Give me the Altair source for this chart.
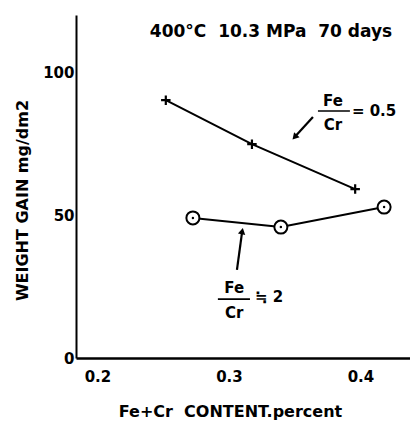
import altair as alt
import pandas as pd

# Series
x_cross = [0.252, 0.3175, 0.396]
y_cross = [90.2, 74.8, 59.1]
x_circ = [0.2726, 0.3395, 0.418]
y_circ = [49.0, 45.8, 52.8]

x_ticks = [0.2, 0.3, 0.4]
y_ticks = [0, 50, 100]

title_text = ["400°C\u00a0\u00a010.3 MPa\u00a0\u00a070 days"]
title_x = [0.332]
title_y = [114]

# Fraction annotations
frac_num = ["Fe", "Fe"]
frac_den = ["Cr", "Cr"]
frac_rhs = ["= 0.5", "≒ 2"]
frac_cx = [0.3791, 0.3040]
frac_num_y = [89.9, 24.5]
frac_den_y = [81.5, 15.7]
frac_bar_x1 = [0.3677, 0.2916]
frac_bar_x2 = [0.3920, 0.3160]
frac_bar_y = [86.4, 20.6]
frac_rhs_x = [0.3935, 0.3198]
frac_rhs_y = [86.4, 21.3]

# Arrows (tail -> head)
arr_x1 = [0.3639, 0.3061]
arr_y1 = [84.3, 30.8]
arr_x2 = [0.3500, 0.3101]
arr_y2 = [77.3, 44.4]
arr_angle = [222, 11]

FONT = "DejaVu Sans"

xs = alt.Scale(domain=[0.1837, 0.4377], nice=False, zero=False)
ys = alt.Scale(domain=[0, 120], nice=False)

df_cross = pd.DataFrame({"x": x_cross, "y": y_cross})
df_circ = pd.DataFrame({"x": x_circ, "y": y_circ})

X = alt.X("x:Q", scale=xs, title="Fe+Cr\u00a0\u00a0CONTENT.percent",
          axis=alt.Axis(values=x_ticks, format=".1f", grid=False, ticks=False,
                        domainColor="black", domainWidth=2.5, labelPadding=11,
                        labelFont=FONT, labelFontSize=15, labelFontWeight="bold",
                        labelColor="black",
                        titleFont=FONT, titleFontSize=16, titleFontWeight="bold",
                        titleColor="black", titleX=154, titleY=58,
                        titleAlign="center", titleBaseline="alphabetic"))
Y = alt.Y("y:Q", scale=ys, title="WEIGHT GAIN mg/dm2",
          axis=alt.Axis(values=y_ticks, grid=False, ticks=False,
                        domainColor="black", domainWidth=2, labelPadding=2,
                        labelFont=FONT, labelFontSize=15, labelFontWeight="bold",
                        labelColor="black",
                        titleFont=FONT, titleFontSize=16, titleFontWeight="bold",
                        titleColor="black", titleX=-54, titleY=185,
                        titleAlign="center", titleBaseline="middle", titleAngle=270))

line_cross = alt.Chart(df_cross).mark_line(color="black", strokeWidth=2).encode(x=X, y=Y)
line_circ = alt.Chart(df_circ).mark_line(color="black", strokeWidth=2).encode(x="x:Q", y="y:Q")

pts_cross = alt.Chart(df_cross).mark_point(
    shape="M-1,0L1,0M0,-1L0,1", filled=False, stroke="black", strokeWidth=2.2, size=90, opacity=1
).encode(x="x:Q", y="y:Q")
pts_circ = alt.Chart(df_circ).mark_point(
    shape="circle", filled=True, fill="white", stroke="black", strokeWidth=2, size=170, opacity=1
).encode(x="x:Q", y="y:Q")
dots_circ = alt.Chart(df_circ).mark_point(
    shape="circle", filled=True, color="black", size=6, opacity=1
).encode(x="x:Q", y="y:Q")

df_title = pd.DataFrame({"x": title_x, "y": title_y, "t": title_text})
title = alt.Chart(df_title).mark_text(
    font=FONT, fontSize=17, fontWeight="bold", color="black", align="center", baseline="middle"
).encode(x="x:Q", y="y:Q", text="t:N")

df_frac = pd.DataFrame({
    "cx": frac_cx, "ny": frac_num_y, "dy": frac_den_y, "num": frac_num, "den": frac_den,
    "bx1": frac_bar_x1, "bx2": frac_bar_x2, "by": frac_bar_y,
    "rx": frac_rhs_x, "ry": frac_rhs_y, "rhs": frac_rhs,
})
num = alt.Chart(df_frac).mark_text(
    font=FONT, fontSize=15, fontWeight="bold", color="black", align="center", baseline="middle"
).encode(x="cx:Q", y="ny:Q", text="num:N")
den = alt.Chart(df_frac).mark_text(
    font=FONT, fontSize=15, fontWeight="bold", color="black", align="center", baseline="middle"
).encode(x="cx:Q", y="dy:Q", text="den:N")
bar = alt.Chart(df_frac).mark_rule(color="black", strokeWidth=1.6).encode(
    x="bx1:Q", x2="bx2:Q", y="by:Q")
rhs = alt.Chart(df_frac).mark_text(
    font=FONT, fontSize=15, fontWeight="bold", color="black", align="left", baseline="middle"
).encode(x="rx:Q", y="ry:Q", text="rhs:N")

df_arr = pd.DataFrame({"x1": arr_x1, "y1": arr_y1, "x2": arr_x2, "y2": arr_y2, "a": arr_angle})
arr_line = alt.Chart(df_arr).mark_rule(color="black", strokeWidth=2.2).encode(
    x="x1:Q", y="y1:Q", x2="x2:Q", y2="y2:Q")
arr_head = alt.Chart(df_arr).mark_point(
    shape="triangle-up", filled=True, color="black", size=55, opacity=1
).encode(x="x2:Q", y="y2:Q", angle=alt.Angle("a:Q", scale=None))

chart = alt.layer(
    line_cross, line_circ, pts_cross, pts_circ, dots_circ,
    title, num, den, bar, rhs, arr_line, arr_head
).properties(
    width=334, height=343,
    autosize=alt.AutoSizeParams(type="none"),
    padding={"left": 68, "top": 7, "right": 0, "bottom": 62},
    background="white",
).configure_view(stroke=None)

chart.save("out.html", embed_options={"renderer": "svg", "actions": False})
